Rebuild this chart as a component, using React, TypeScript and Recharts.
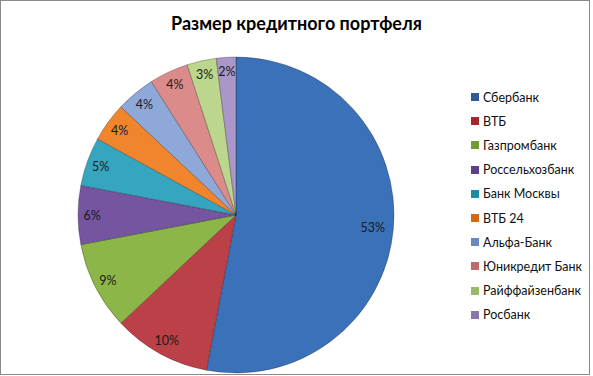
import React from "react";
import { PieChart, Pie, Cell, Legend } from "recharts";

const banks = [
  "Сбербанк",
  "ВТБ",
  "Газпромбанк",
  "Россельхозбанк",
  "Банк Москвы",
  "ВТБ 24",
  "Альфа-Банк",
  "Юникредит Банк",
  "Райффайзенбанк",
  "Росбанк",
];
const shares = [53, 10, 9, 6, 5, 4, 4, 4, 3, 2];
const colors = [
  "#3A71B9",
  "#BC4047",
  "#8DB648",
  "#75559F",
  "#35A5C0",
  "#F0852D",
  "#8EA8DA",
  "#DC8B8B",
  "#BCD68D",
  "#AA97C8",
];
const legendColors = [
  "#2E5C99",
  "#A3262C",
  "#739A33",
  "#5C3F86",
  "#1F8AA3",
  "#D36A12",
  "#6B87BF",
  "#BD6A6A",
  "#98B868",
  "#8A76AB",
];
const title = "Размер кредитного портфеля";

const data = banks.map((name, i) => ({ name, value: shares[i] }));

const RADIAN = Math.PI / 180;
const FONT = "Lato, 'Open Sans', sans-serif";

const renderLabel = (props: any) => {
  const { cx, cy, midAngle, outerRadius, value } = props;
  const r = outerRadius * (value > 40 ? 0.87 : 0.91);
  const x = cx + r * Math.cos(-midAngle * RADIAN);
  const y = cy + r * Math.sin(-midAngle * RADIAN);
  return (
    <text
      x={x}
      y={y}
      fill="#1a1a1a"
      fontSize={12.5}
      fontFamily={FONT}
      textAnchor="middle"
      dominantBaseline="central"
    >
      {value + "%"}
    </text>
  );
};

const renderLegend = () => (
  <div style={{ fontFamily: FONT, fontSize: 12.5, color: "#111" }}>
    {banks.map((b, i) => (
      <div
        key={b}
        style={{ display: "flex", alignItems: "center", height: 24.2 }}
      >
        <span
          style={{
            display: "inline-block",
            width: 8,
            height: 8,
            background: legendColors[i],
            marginRight: 4,
          }}
        />
        <span>{b}</span>
      </div>
    ))}
  </div>
);

export default function App() {
  return (
    <div
      style={{
        position: "absolute",
        left: 0,
        top: 0,
        width: 593,
        height: 376,
        background: "#fff",
      }}
    >
      <div
        style={{
          position: "absolute",
          left: 0,
          top: 0,
          width: 590,
          height: 375,
          border: "1px solid #8a8a8a",
          boxSizing: "border-box",
        }}
      />
      <div
        style={{
          position: "absolute",
          left: 0,
          top: 12,
          width: 593,
          textAlign: "center",
          fontFamily: FONT,
          fontWeight: 700,
          fontSize: 18,
          color: "#000",
        }}
      >
        {title}
      </div>
      <div style={{ position: "absolute", left: 0, top: 0 }}>
        <PieChart width={593} height={376}>
          <Pie
            data={data}
            dataKey="value"
            nameKey="name"
            cx={231}
            cy={210}
            outerRadius={158}
            startAngle={90}
            endAngle={-270}
            isAnimationActive={false}
            label={renderLabel}
            labelLine={false}
            stroke="rgba(0,0,0,0.25)"
            strokeWidth={1}
          >
            {data.map((d, i) => (
              <Cell key={d.name} fill={colors[i]} />
            ))}
          </Pie>
          <Legend
            layout="vertical"
            content={renderLegend}
            wrapperStyle={{ left: 471, top: 85, width: 122 }}
          />
        </PieChart>
      </div>
    </div>
  );
}
